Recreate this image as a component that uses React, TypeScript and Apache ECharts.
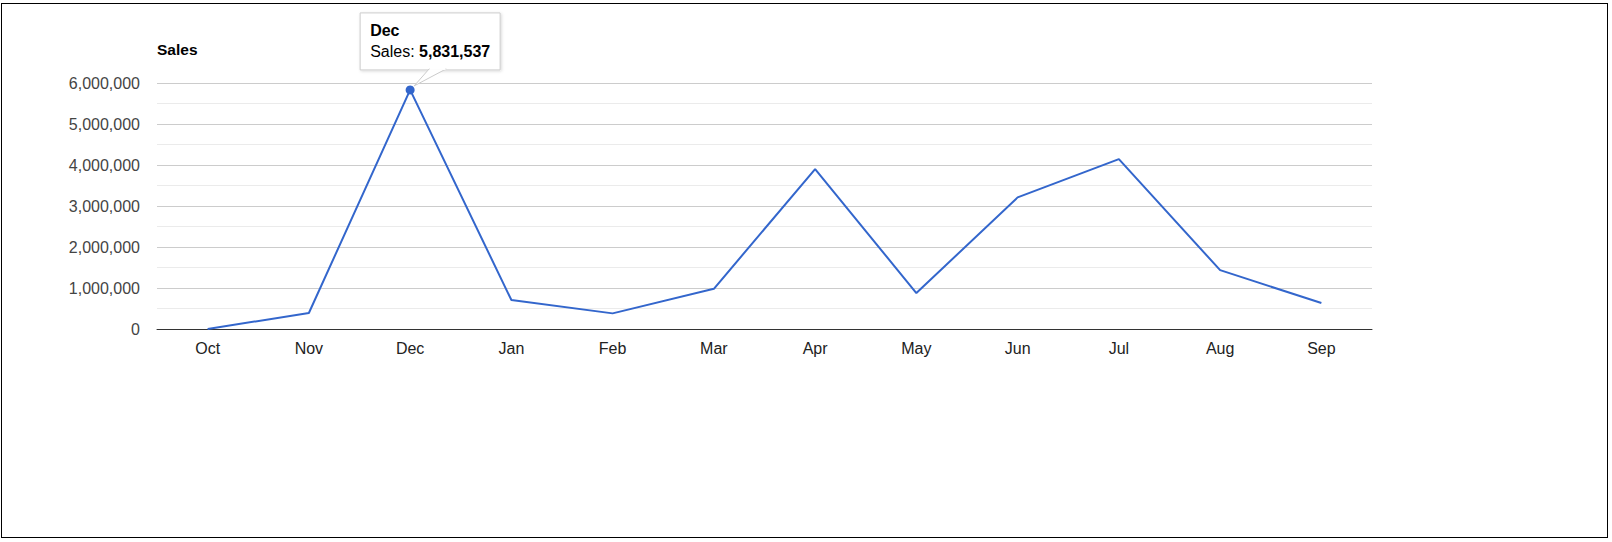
import React, { useEffect, useRef } from "react";
import * as echarts from "echarts";

const categories = ["Oct", "Nov", "Dec", "Jan", "Feb", "Mar", "Apr", "May", "Jun", "Jul", "Aug", "Sep"];
const salesValues = [0, 390000, 5831537, 706000, 381000, 981000, 3900000, 876000, 3210000, 4144000, 1435000, 633000];
const seriesName = "Sales";
const highlightIndex = 2;
const yTicks = { min: 0, max: 6000000, interval: 1000000 };

const FONT = "Arial, 'Liberation Sans', sans-serif";
const fmt = (v: number) => v.toLocaleString("en-US");

export default function App() {
  const ref = useRef<HTMLDivElement>(null);
  useEffect(() => {
    if (!ref.current) return;
    const chart = echarts.init(ref.current, undefined, { renderer: "svg" });
    const data = salesValues.map((v, i) =>
      i === highlightIndex
        ? { value: v, symbol: "circle", symbolSize: 9, itemStyle: { color: "#3366cc" } }
        : { value: v, symbol: "none" }
    );
    chart.setOption({
      animation: false,
      textStyle: { fontFamily: FONT },
      grid: { left: 157, right: 240, top: 83, height: 246, containLabel: false },
      xAxis: {
        type: "category",
        data: categories,
        boundaryGap: true,
        axisLine: { show: true, lineStyle: { color: "#333", width: 1 } },
        axisTick: { show: false },
        axisLabel: { color: "#222", fontSize: 16, margin: 11, fontFamily: FONT },
        splitLine: { show: false },
      },
      yAxis: {
        type: "value",
        min: yTicks.min,
        max: yTicks.max,
        interval: yTicks.interval,
        name: seriesName,
        nameLocation: "end",
        nameGap: 34,
        nameTextStyle: {
          color: "#000",
          fontWeight: "bold",
          fontSize: 15.5,
          align: "left",
          verticalAlign: "middle",
          fontFamily: FONT,
        },
        axisLine: { show: false },
        axisTick: { show: false },
        axisLabel: { color: "#444", fontSize: 16, margin: 17, formatter: (v: number) => fmt(v), fontFamily: FONT },
        splitLine: { show: true, lineStyle: { color: "#cccccc", width: 1 } },
        minorTick: { show: false, splitNumber: 2 },
        minorSplitLine: { show: true, lineStyle: { color: "#ebebeb", width: 1 } },
      },
      series: [
        {
          name: seriesName,
          type: "line",
          data,
          showSymbol: true,
          lineStyle: { color: "#3366cc", width: 2 },
          itemStyle: { color: "#3366cc" },
          z: 3,
        },
      ],
    });

    const p = chart.convertToPixel({ seriesIndex: 0 }, [highlightIndex, salesValues[highlightIndex]]) as number[];
    const bx = p[0] - 50;
    const by = p[1] - 77;
    chart.setOption({
      graphic: [
        {
          type: "group",
          z: 100,
          children: [
            {
              type: "rect",
              shape: { x: bx, y: by, width: 140, height: 57 },
              style: {
                fill: "#fff",
                stroke: "#cccccc",
                lineWidth: 1,
                shadowBlur: 3,
                shadowColor: "rgba(0,0,0,0.15)",
                shadowOffsetX: 1,
                shadowOffsetY: 1,
              },
            },
            {
              type: "polygon",
              shape: {
                points: [
                  [p[0] + 19, by + 56],
                  [p[0] + 4, p[1] - 4],
                  [p[0] + 36, by + 56],
                ],
              },
              style: { fill: "#fff", stroke: "#cccccc", lineWidth: 1 },
            },
            {
              type: "rect",
              shape: { x: p[0] + 19.5, y: by + 55, width: 16, height: 2 },
              style: { fill: "#fff" },
            },
            {
              type: "text",
              x: bx + 10,
              y: by + 18,
              style: {
                text: categories[highlightIndex],
                fontFamily: FONT,
                fontSize: 16,
                fontWeight: "bold",
                fill: "#000",
                verticalAlign: "middle",
              },
            },
            {
              type: "text",
              x: bx + 10,
              y: by + 39,
              style: {
                text: `{a|${seriesName}: }{b|${fmt(salesValues[highlightIndex])}}`,
                verticalAlign: "middle",
                rich: {
                  a: { fontFamily: FONT, fontSize: 16, fill: "#000", color: "#000" },
                  b: { fontFamily: FONT, fontSize: 16, fontWeight: "bold", fill: "#000", color: "#000" },
                },
              },
            },
          ],
        },
      ],
    });
    return () => chart.dispose();
  }, []);

  return (
    <div style={{ position: "absolute", left: 0, top: 0, width: 1612, height: 542, background: "#fff" }}>
      <div
        style={{
          position: "absolute",
          left: 1,
          top: 3,
          width: 1607,
          height: 535,
          boxSizing: "border-box",
          border: "1px solid #000",
        }}
      />
      <div ref={ref} style={{ position: "absolute", left: 0, top: 0, width: 1612, height: 542 }} />
    </div>
  );
}
